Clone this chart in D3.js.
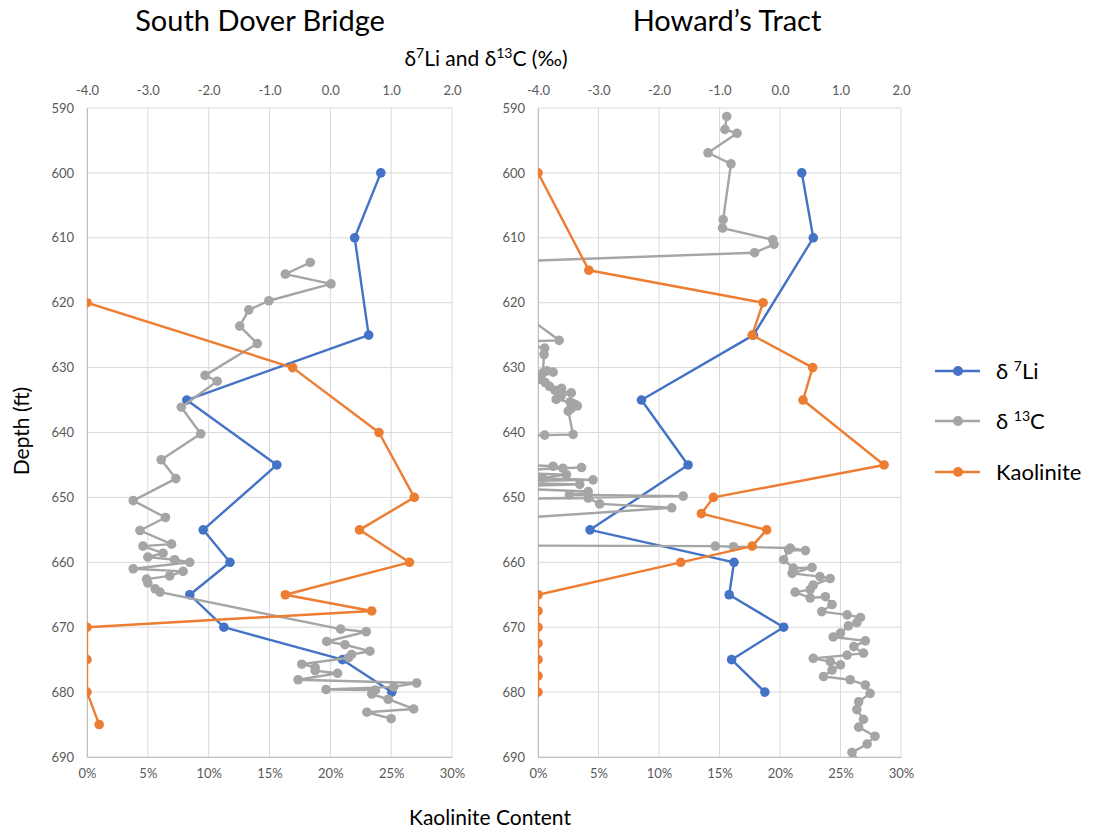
<!DOCTYPE html>
<html>
<head>
<meta charset="utf-8">
<script src="https://cdn.jsdelivr.net/npm/d3@7"></script>
<style>
  body { margin: 0; background: #fff; }
  text { font-family: Lato, "Open Sans", sans-serif; }
</style>
</head>
<body>
<svg id="chart" width="1093" height="834"></svg>
<script>
// depth (ft) / value pairs
// South Dover Bridge
var sdbLi = [[600,0.83],[610,0.40],[625,0.63],[635,-2.36],[645,-0.88],[655,-2.09],[660,-1.65],
  [665,-2.31],[670,-1.75],[675,0.20],[680,1.01]]
var sdbC = [[613.8,-0.33],[615.6,-0.74],[617.1,0.01],[619.7,-1.01],[621.1,-1.34],[623.6,-1.49],
  [626.3,-1.20],[631.2,-2.06],[632.1,-1.86],[636.1,-2.45],[640.2,-2.13],[644.2,-2.78],[647.1,-2.54],
  [650.5,-3.24],[653.1,-2.71],[655.1,-3.13],[657.2,-2.61],[657.5,-3.08],[658.6,-2.75],[659.2,-3.00],
  [659.6,-2.56],[660.0,-2.31],[661.0,-3.24],[661.4,-2.42],[662.1,-2.64],[662.6,-3.02],[663.2,-3.00],
  [664.1,-2.88],[664.6,-2.80],[670.3,0.17],[670.7,0.59],[672.2,-0.06],[672.7,0.24],[673.7,0.65],
  [674.2,0.35],[674.7,0.30],[675.7,-0.47],[676.2,-0.25],[676.7,-0.25],[677.1,0.12],[678.1,-0.53],
  [678.6,1.42],[679.2,1.04],[679.6,-0.07],[679.7,0.74],[680.3,0.68],[681.1,0.95],[682.6,1.37],
  [683.1,0.60],[684.1,1.00]]
var sdbKao = [[620,0],[630,16.9],[640,24.0],[650,26.9],[655,22.4],[660,26.5],[665,16.3],[667.5,23.4],
  [670,0],[675,0],[680,0],[685,1.0]]

// Howard's Tract
var htLi = [[600,0.36],[610,0.55],[625,-0.44],[635,-2.29],[645,-1.52],[655,-3.14],[660,-0.76],
  [665,-0.84],[670,0.06],[675,-0.80],[680,-0.25]]
var htC = [[591.3,-0.88],[593.3,-0.91],[593.9,-0.71],[596.9,-1.19],[598.6,-0.81],[607.2,-0.94],
  [608.5,-0.95],[610.3,-0.12],[611.0,-0.10],[612.3,-0.42],[614.0,-5.5],[620.0,-4.5],[625.8,-3.65],
  [626.0,-4.4],[627.0,-3.89],[628.0,-3.90],[630.8,-3.92],[630.5,-3.85],[630.7,-3.75],[631.2,-3.95],
  [631.8,-3.97],[632.3,-3.88],[632.9,-3.81],[633.2,-3.61],[633.5,-3.72],[633.9,-3.45],[634.4,-3.62],
  [634.9,-3.70],[635.3,-3.47],[635.6,-3.40],[635.9,-3.35],[636.3,-3.45],[636.7,-3.50],[640.3,-3.42],
  [640.4,-3.89],[640.6,-5.0],[644.6,-5.0],[645.2,-3.75],[645.5,-3.59],[645.4,-3.28],[646.0,-5.0],
  [646.5,-3.53],[647.0,-3.92],[647.3,-3.09],[647.6,-5.0],[648.0,-3.31],[648.4,-5.0],[649.1,-3.17],
  [649.6,-3.48],[649.8,-1.60],[650.3,-5.0],[650.1,-3.17],[651.0,-2.98],[651.6,-1.79],[653.6,-5.0],
  [657.4,-5.0],[657.5,-1.07],[657.6,-0.77],[657.8,0.17],[658.2,0.42],[658.1,0.14],[659.6,0.06],
  [660.9,0.22],[660.8,0.53],[661.7,0.20],[662.2,0.66],[662.5,0.83],[663.5,0.55],[664.2,0.50],
  [664.6,0.25],[665.5,0.50],[665.3,0.75],[666.5,0.86],[667.6,0.69],[668.1,1.11],[668.5,1.33],
  [669.3,1.27],[669.8,1.13],[670.9,1.00],[671.5,0.88],[672.1,1.41],[673.0,1.22],[674.0,1.38],
  [674.3,1.11],[674.8,0.55],[675.3,0.83],[675.8,1.00],[676.6,0.86],[677.6,0.72],[678.1,1.16],
  [678.9,1.41],[680.2,1.49],[681.5,1.30],[682.7,1.27],[684.2,1.38],[685.4,1.30],[686.8,1.57],
  [688.0,1.44],[689.3,1.19],[691.0,1.35]]
var htKao = [[600,0],[615,4.2],[620,18.6],[625,17.7],[630,22.7],[635,21.9],[645,28.6],[650,14.5],
  [652.5,13.5],[655,18.9],[657.5,17.7],[660,11.8],[665,0],[667.5,0],[670,0],[672.5,0],[675,0],
  [677.5,0],[680,0]]

var deltaTicks = [-4, -3, -2, -1, 0, 1, 2]
var kaoTicks = [0, 5, 10, 15, 20, 25, 30]
var depthTicks = [590, 600, 610, 620, 630, 640, 650, 660, 670, 680, 690]
var seriesNames = ["δ 7Li", "δ 13C", "Kaolinite"]

var colors = {li: "#4472c4", c: "#a5a5a5", kao: "#ed7d31"}

var svg = d3.select("#chart")
var plotTop = 108, plotBottom = 757

var panels = [
  {title: "South Dover Bridge", left: 87, right: 452, titleX: 260, li: sdbLi, c: sdbC, kao: sdbKao},
  {title: "Howard’s Tract", left: 538, right: 901, titleX: 727, li: htLi, c: htC, kao: htKao}
]

var yScale = d3.scaleLinear().domain([590, 690]).range([plotTop, plotBottom])

panels.forEach(function(p, i) {
  var xDelta = d3.scaleLinear().domain([-4, 2]).range([p.left, p.right])
  var xKao = d3.scaleLinear().domain([0, 30]).range([p.left, p.right])

  var g = svg.append("g")

  // grid
  g.selectAll(".vgrid").data(deltaTicks).enter().append("line")
    .attr("x1", d => xDelta(d)).attr("x2", d => xDelta(d))
    .attr("y1", plotTop).attr("y2", plotBottom)
    .attr("stroke", "#d9d9d9").attr("stroke-width", 1)
  g.selectAll(".hgrid").data(depthTicks).enter().append("line")
    .attr("x1", p.left).attr("x2", p.right)
    .attr("y1", d => yScale(d)).attr("y2", d => yScale(d))
    .attr("stroke", "#d9d9d9").attr("stroke-width", 1)

  // axes
  var topAxis = g.append("g").attr("transform", "translate(0," + plotTop + ")")
    .call(d3.axisTop(xDelta).tickValues(deltaTicks).tickSize(0).tickPadding(13)
      .tickFormat(d => d.toFixed(1)))
  var botAxis = g.append("g").attr("transform", "translate(0," + plotBottom + ")")
    .call(d3.axisBottom(xKao).tickValues(kaoTicks).tickSize(0).tickPadding(12)
      .tickFormat(d => d + "%"))
  var leftAxis = g.append("g").attr("transform", "translate(" + p.left + ",0)")
    .call(d3.axisLeft(yScale).tickValues(depthTicks).tickSize(0).tickPadding(13)
      .tickFormat(d3.format("d")))
  topAxis.select(".domain").remove()
  botAxis.select(".domain").attr("stroke", "#bfbfbf")
  leftAxis.select(".domain").attr("stroke", "#bfbfbf")
  g.selectAll(".tick text").attr("fill", "#595959").style("font-size", "13px")
    .style("font-family", "Lato, 'Open Sans', sans-serif")

  // clip
  svg.append("clipPath").attr("id", "clip" + i).append("rect")
    .attr("x", p.left).attr("y", plotTop).attr("width", p.right - p.left).attr("height", plotBottom - plotTop)

  var plot = g.append("g").attr("clip-path", "url(#clip" + i + ")")

  var series = [
    {data: p.li, x: xDelta, color: colors.li},
    {data: p.c, x: xDelta, color: colors.c},
    {data: p.kao, x: xKao, color: colors.kao}
  ]

  series.forEach(function(s) {
    var line = d3.line().x(d => s.x(d[1])).y(d => yScale(d[0]))
    plot.append("path").datum(s.data)
      .attr("fill", "none").attr("stroke", s.color).attr("stroke-width", 2.4)
      .attr("stroke-linejoin", "round")
      .attr("d", line)
    plot.selectAll(null).data(s.data).enter().append("circle")
      .attr("cx", d => s.x(d[1])).attr("cy", d => yScale(d[0]))
      .attr("r", 4.8).attr("fill", s.color)
  })

  // panel title
  svg.append("text").attr("x", p.titleX).attr("y", 31)
    .attr("text-anchor", "middle").style("font-size", "29px").attr("fill", "#000")
    .text(p.title)
})

// shared axis titles
var xTitle = svg.append("text").attr("x", 486).attr("y", 66)
  .attr("text-anchor", "middle").style("font-size", "21px").attr("fill", "#000")
xTitle.append("tspan").text("δ")
xTitle.append("tspan").text("7").attr("dy", -8).style("font-size", "14px")
xTitle.append("tspan").text("Li and δ").attr("dy", 8)
xTitle.append("tspan").text("13").attr("dy", -8).style("font-size", "14px")
xTitle.append("tspan").text("C (‰)").attr("dy", 8)

svg.append("text").attr("x", 490).attr("y", 825)
  .attr("text-anchor", "middle").style("font-size", "21px").attr("fill", "#000")
  .text("Kaolinite Content")

svg.append("text").attr("transform", "translate(29,431) rotate(-90)")
  .attr("text-anchor", "middle").style("font-size", "21px").attr("fill", "#000")
  .text("Depth (ft)")

// legend
var legendColors = [colors.li, colors.c, colors.kao]
var legendY = [371, 421, 472]
var legend = svg.append("g")
seriesNames.forEach(function(name, i) {
  var y = legendY[i]
  legend.append("line").attr("x1", 935).attr("x2", 980).attr("y1", y).attr("y2", y)
    .attr("stroke", legendColors[i]).attr("stroke-width", 2.4)
  legend.append("circle").attr("cx", 958).attr("cy", y).attr("r", 5).attr("fill", legendColors[i])
  var t = legend.append("text").attr("x", 996).attr("y", y + 8)
    .style("font-size", "22px").attr("fill", "#000")
  var parts = name.split(" ")
  if (parts.length > 1) {
    var sup = parts[1].match(/^\d+/)[0]
    t.append("tspan").text("δ ")
    t.append("tspan").text(sup).attr("dy", -8).style("font-size", "14px")
    t.append("tspan").text(parts[1].slice(sup.length)).attr("dy", 8)
  } else {
    t.text(name)
  }
})
</script>
</body>
</html>
